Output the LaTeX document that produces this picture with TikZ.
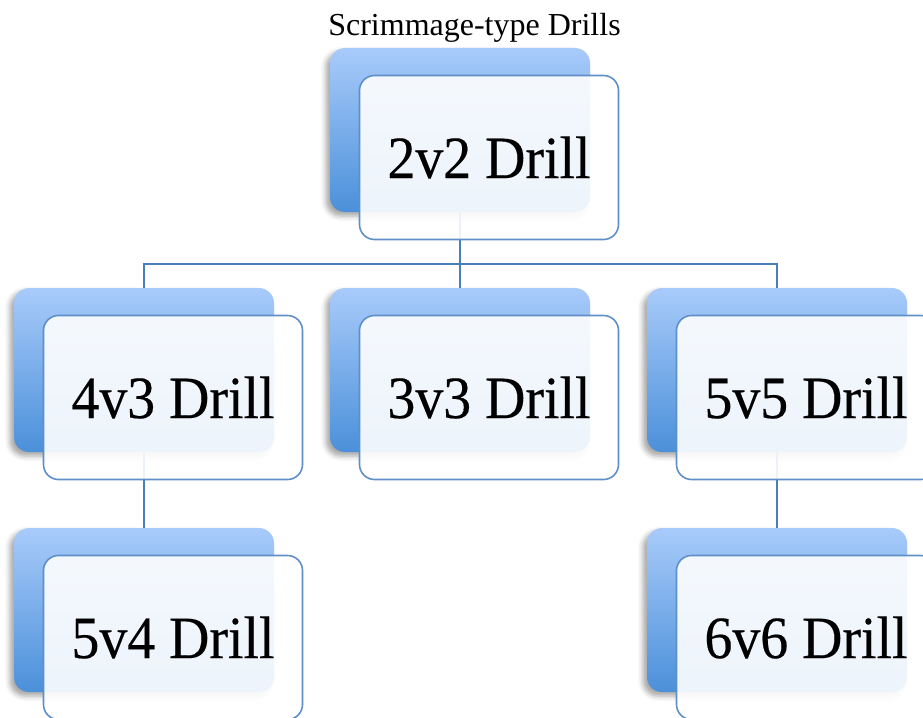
\documentclass[tikz,border=0pt]{standalone}
\usepackage{fontspec}
\setmainfont{Liberation Serif}
\newfontfamily\cardfont[FakeStretch=0.93,FakeBold=0.3]{Liberation Serif}
\usetikzlibrary{calc,shadows.blur}

\definecolor{backtop}{HTML}{A8CBFA}
\definecolor{backbot}{HTML}{4B90DA}
\definecolor{frontline}{HTML}{5E8FC7}
\definecolor{wirecol}{HTML}{4A7EBB}

\tikzset{
  backbox/.style={rectangle, rounded corners=15pt, inner sep=0pt,
    minimum width=260pt, minimum height=164pt,
    top color=backtop, bottom color=backbot, draw=none,
    blur shadow={shadow xshift=-4pt, shadow yshift=-4pt,
      shadow blur radius=5pt, shadow opacity=35}},
  frontbox/.style={rectangle, rounded corners=15pt, inner sep=0pt,
    minimum width=259pt, minimum height=164pt,
    draw=frontline, line width=1.6pt, fill=white, fill opacity=0.9,
    text opacity=1, font=\cardfont\fontsize{60}{64}\selectfont},
  link/.style={draw=wirecol, line width=1.8pt},
}

\begin{document}
\begin{tikzpicture}[x=1pt,y=1pt]
  \useasboundingbox (0,0) rectangle (923,-717);
  \clip (0,0) rectangle (923,-717);

  % title
  \node[anchor=base, font=\fontsize{32}{36}\selectfont] (title) at (474.5,-36) {Scrimmage-type Drills};

  % coloured back plates
  \node[backbox] (b1) at (460,-130) {};
  \node[backbox] (b2) at (144,-370) {};
  \node[backbox] (b3) at (460,-370) {};
  \node[backbox] (b4) at (777,-370) {};
  \node[backbox] (b5) at (144,-610) {};
  \node[backbox] (b6) at (777,-610) {};

  % tree connectors
  \coordinate (j) at ($(b1.south)+(0,-52)$);
  \draw[link] (b1.south) -- (j);
  \draw[link] (j) -| (b2.north);
  \draw[link] (j) -| (b4.north);
  \draw[link] (j) -- (b3.north);
  \draw[link] (b2.south) -- (b5.north);
  \draw[link] (b4.south) -- (b6.north);

  % translucent front cards with labels
  \node[frontbox] (f1) at ($(b1)+(29,-27.5)$) {2v2 Drill};
  \node[frontbox] (f2) at ($(b2)+(29,-27.5)$) {4v3 Drill};
  \node[frontbox] (f3) at ($(b3)+(29,-27.5)$) {3v3 Drill};
  \node[frontbox] (f4) at ($(b4)+(29,-27.5)$) {5v5 Drill};
  \node[frontbox] (f5) at ($(b5)+(29,-27.5)$) {5v4 Drill};
  \node[frontbox] (f6) at ($(b6)+(29,-27.5)$) {6v6 Drill};
\end{tikzpicture}
\end{document}
